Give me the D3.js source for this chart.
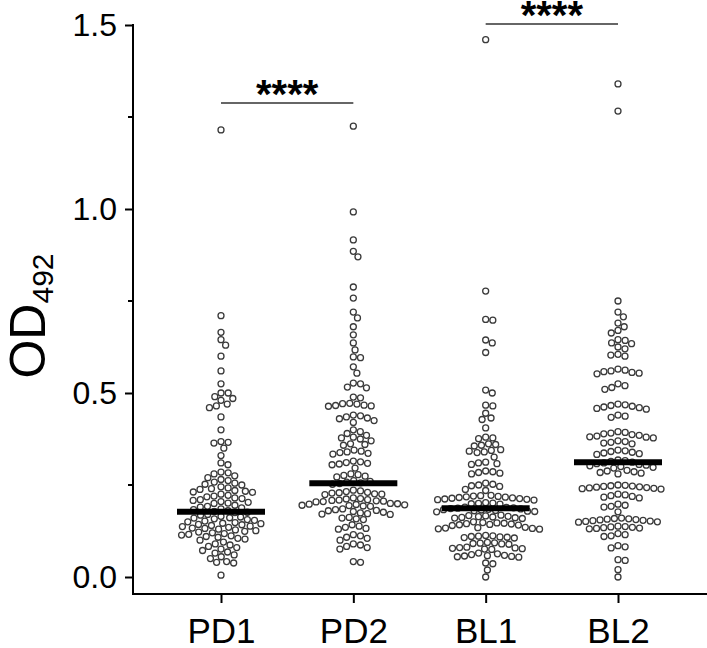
<!DOCTYPE html>
<html>
<head>
<meta charset="utf-8">
<script src="https://cdn.jsdelivr.net/npm/d3@7"></script>
<style>
  body { margin: 0; background: #fff; }
  svg text { font-family: "Liberation Sans", Arial, sans-serif; }
</style>
</head>
<body>
<script>
// groups and read-off values (OD492)
const groups = ["PD1", "PD2", "BL1", "BL2"];

const pd1 = [
  1.215, 0.71, 0.665, 0.645, 0.63, 0.60, 0.56, 0.525,
  0.50, 0.50, 0.49, 0.485, 0.48, 0.47, 0.465, 0.46, 0.435,
  0.40, 0.368, 0.366, 0.364, 0.35, 0.33, 0.31, 0.305,
  0.285, 0.283, 0.28, 0.275, 0.27, 0.265,
  0.262, 0.258, 0.255, 0.252, 0.25,
  0.245, 0.242, 0.24, 0.238, 0.235, 0.233, 0.231, 0.23,
  0.225, 0.222, 0.22, 0.218, 0.215, 0.213, 0.21, 0.208, 0.205, 0.203, 0.201, 0.20,
  0.195, 0.192, 0.19, 0.188, 0.185, 0.183, 0.18, 0.178, 0.176, 0.175,
  0.17, 0.168, 0.165, 0.163, 0.161, 0.16, 0.158, 0.156, 0.154, 0.152, 0.15,
  0.148, 0.146, 0.145, 0.143, 0.142, 0.14, 0.138, 0.137, 0.135, 0.133, 0.132, 0.13,
  0.128, 0.126, 0.124, 0.122, 0.12, 0.118, 0.116, 0.114, 0.112, 0.11, 0.108, 0.105, 0.103, 0.10,
  0.095, 0.09, 0.087, 0.083, 0.08, 0.076, 0.072,
  0.068, 0.065, 0.06, 0.055, 0.05,
  0.042, 0.04, 0.038, 0.005
];

const pd2 = [
  1.225, 0.992, 0.916, 0.885, 0.87, 0.788, 0.758, 0.72, 0.704, 0.68, 0.658, 0.636,
  0.617, 0.598, 0.596, 0.571, 0.554, 0.527, 0.525, 0.516, 0.514, 0.489, 0.487,
  0.472, 0.471, 0.47, 0.467, 0.466, 0.465, 0.464,
  0.44, 0.438, 0.435, 0.432, 0.43, 0.425, 0.42,
  0.40, 0.395, 0.39, 0.385, 0.38, 0.378, 0.375, 0.37,
  0.362, 0.36, 0.358,
  0.345, 0.342, 0.34, 0.338, 0.336, 0.334,
  0.315, 0.313, 0.311, 0.309, 0.307, 0.305,
  0.296,
  0.28, 0.278, 0.276, 0.274, 0.272,
  0.262, 0.26, 0.258, 0.256, 0.254, 0.252,
  0.236, 0.234, 0.232, 0.23, 0.229, 0.228, 0.226, 0.225, 0.224,
  0.215, 0.213, 0.212, 0.21, 0.209, 0.208, 0.207, 0.206, 0.205, 0.204,
  0.2, 0.199, 0.198, 0.197, 0.196, 0.195, 0.194, 0.193, 0.192,
  0.185, 0.183, 0.181, 0.18, 0.178, 0.176, 0.174, 0.172, 0.171, 0.17,
  0.162, 0.16, 0.158, 0.156,
  0.142, 0.138, 0.135, 0.132, 0.13,
  0.115, 0.112, 0.108, 0.105, 0.10,
  0.09, 0.087, 0.083, 0.08, 0.076,
  0.042, 0.04
];

const bl1 = [
  1.46, 0.777, 0.70, 0.698, 0.644, 0.636, 0.61, 0.508, 0.50,
  0.467, 0.465, 0.445, 0.432, 0.428, 0.405,
  0.38, 0.378, 0.376, 0.362, 0.36, 0.358, 0.356,
  0.346, 0.344, 0.342, 0.34, 0.338,
  0.326,
  0.312, 0.31, 0.308, 0.306,
  0.288, 0.286, 0.284, 0.282, 0.28,
  0.255, 0.252, 0.25, 0.248, 0.246,
  0.238, 0.235,
  0.222, 0.221, 0.22, 0.219, 0.218, 0.217, 0.216, 0.215, 0.214, 0.213, 0.212, 0.211, 0.21, 0.209,
  0.202, 0.201, 0.2, 0.199, 0.198,
  0.19, 0.189, 0.188, 0.187, 0.186, 0.185, 0.184, 0.183, 0.182, 0.181, 0.18, 0.179, 0.178, 0.177,
  0.168, 0.167, 0.166, 0.165, 0.164, 0.163, 0.162, 0.161, 0.16, 0.159,
  0.15, 0.148, 0.147, 0.146, 0.145, 0.144, 0.143, 0.142, 0.141, 0.14,
  0.135, 0.134, 0.133, 0.132, 0.131, 0.13,
  0.113, 0.112, 0.111, 0.11, 0.109, 0.108, 0.107, 0.106,
  0.094, 0.093, 0.092, 0.091, 0.09, 0.089,
  0.081, 0.08, 0.079, 0.078, 0.077, 0.076, 0.075,
  0.065, 0.063, 0.061, 0.059, 0.058, 0.057, 0.056, 0.055, 0.054,
  0.038, 0.036, 0.019, 0.0
];

const bl2 = [
  1.34, 1.266, 0.75, 0.72, 0.707, 0.69, 0.68, 0.67, 0.663,
  0.645, 0.643, 0.636, 0.634, 0.625, 0.62, 0.605, 0.603, 0.6,
  0.565, 0.562, 0.56, 0.558, 0.556, 0.554, 0.552,
  0.525, 0.52, 0.515, 0.51,
  0.47, 0.468, 0.466, 0.464, 0.462, 0.46, 0.458, 0.456,
  0.44, 0.437, 0.434,
  0.395, 0.393, 0.391, 0.389, 0.387, 0.385, 0.383, 0.381, 0.38, 0.378,
  0.37, 0.368, 0.366, 0.364, 0.362,
  0.345, 0.343, 0.341, 0.339, 0.337, 0.335, 0.333,
  0.318, 0.316, 0.314, 0.312, 0.31, 0.308, 0.306, 0.304, 0.302, 0.3, 0.298, 0.296,
  0.29, 0.288, 0.286, 0.284, 0.282, 0.28,
  0.25, 0.249, 0.248, 0.247, 0.246, 0.245, 0.244, 0.243, 0.242, 0.241, 0.24, 0.239,
  0.225, 0.223, 0.221, 0.219, 0.217, 0.215,
  0.198, 0.195, 0.192, 0.19,
  0.177,
  0.16, 0.159, 0.158, 0.157, 0.156, 0.155, 0.154, 0.153, 0.152, 0.151, 0.15, 0.149,
  0.138, 0.137, 0.136, 0.135, 0.134, 0.133, 0.132, 0.131,
  0.118, 0.115, 0.112, 0.11,
  0.085, 0.082, 0.079,
  0.047, 0.045, 0.02, 0.0
];

const series = [pd1, pd2, bl1, bl2];
const medians = [0.177, 0.255, 0.187, 0.312];

const yTicks = [0, 0.5, 1.0, 1.5];
const yMinorTicks = [0.25, 0.75, 1.25];

// significance brackets: [from, to, label, level]
const brackets = [
  ["PD1", "PD2", "****", 1.288],
  ["BL1", "BL2", "****", 1.503]
];

const width = 707, height = 648;
const axisX = 133, axisY = 594;

const svg = d3.select("body").append("svg")
  .attr("width", width)
  .attr("height", height);

const x = d3.scalePoint().domain(groups).range([221, 618]);
const y = d3.scaleLinear().domain([0, 1.5]).range([577, 25]);

// beeswarm placement
const r = 3.0;
const gap = 7.2;
function swarm(values) {
  const pts = values.map((v) => ({ v, py: y(v), dx: 0 }))
    .sort((a, b) => a.py - b.py);
  const placed = [];
  pts.forEach((p) => {
    const near = placed.filter((q) => Math.abs(q.py - p.py) < gap);
    const cands = [0];
    near.forEach((q) => {
      const h = Math.sqrt(gap * gap - (q.py - p.py) ** 2);
      cands.push(q.dx + h, q.dx - h);
    });
    cands.sort((a, b) => Math.abs(a) - Math.abs(b));
    for (const c of cands) {
      const ok = near.every((q) => {
        const dd = (q.dx - c) ** 2 + (q.py - p.py) ** 2;
        return dd >= gap * gap - 0.01;
      });
      if (ok) { p.dx = c; break; }
    }
    placed.push(p);
  });
  return pts;
}

// axes
const yAxis = svg.append("g")
  .attr("transform", `translate(${axisX},0)`)
  .call(d3.axisLeft(y).tickValues(yTicks).tickFormat(d3.format(".1f")).tickSize(8).tickPadding(8));
yAxis.select(".domain").remove();
yAxis.selectAll(".tick line").attr("stroke", "#000").attr("stroke-width", 2);
yAxis.selectAll(".tick text").attr("font-size", 32).attr("fill", "#000");

svg.append("g")
  .attr("transform", `translate(${axisX},0)`)
  .selectAll("line")
  .data(yMinorTicks)
  .join("line")
  .attr("x1", -5).attr("x2", 0)
  .attr("y1", (d) => y(d)).attr("y2", (d) => y(d))
  .attr("stroke", "#000").attr("stroke-width", 2);

const xAxis = svg.append("g")
  .attr("transform", `translate(0,${axisY})`)
  .call(d3.axisBottom(x).tickSize(9).tickPadding(15).tickSizeOuter(0));
xAxis.select(".domain").remove();
xAxis.selectAll(".tick line").attr("stroke", "#000").attr("stroke-width", 2);
xAxis.selectAll(".tick text").attr("font-size", 35).attr("fill", "#000");

svg.append("line")
  .attr("x1", axisX).attr("x2", axisX)
  .attr("y1", y(1.5) - 1).attr("y2", axisY + 1)
  .attr("stroke", "#000").attr("stroke-width", 2);
svg.append("line")
  .attr("x1", axisX - 1).attr("x2", width)
  .attr("y1", axisY).attr("y2", axisY)
  .attr("stroke", "#000").attr("stroke-width", 2);

// y label OD492
const ylab = svg.append("text")
  .attr("transform", "translate(45,316) rotate(-90)")
  .attr("text-anchor", "middle")
  .attr("fill", "#000");
ylab.append("tspan").attr("font-size", 50).text("OD");
ylab.append("tspan").attr("font-size", 30).attr("dy", 8).text("492");

// points
groups.forEach((g, i) => {
  const pts = swarm(series[i]);
  svg.append("g")
    .selectAll("circle")
    .data(pts)
    .join("circle")
    .attr("cx", (d) => x(g) + d.dx)
    .attr("cy", (d) => d.py)
    .attr("r", r)
    .attr("fill", "#fff")
    .attr("stroke", "#3a3a3a")
    .attr("stroke-width", 1.3);
});

// medians
svg.append("g")
  .selectAll("line")
  .data(groups)
  .join("line")
  .attr("x1", (d) => x(d) - 44)
  .attr("x2", (d) => x(d) + 44)
  .attr("y1", (d, i) => y(medians[i]))
  .attr("y2", (d, i) => y(medians[i]))
  .attr("stroke", "#000")
  .attr("stroke-width", 6);

// significance brackets
brackets.forEach(([a, b, label, level]) => {
  svg.append("line")
    .attr("x1", x(a)).attr("x2", x(b))
    .attr("y1", y(level)).attr("y2", y(level))
    .attr("stroke", "#333").attr("stroke-width", 1.5);
  svg.append("text")
    .attr("x", (x(a) + x(b)) / 2)
    .attr("y", y(level) + 5)
    .attr("text-anchor", "middle")
    .attr("font-size", 40)
    .attr("font-weight", "bold")
    .attr("fill", "#000")
    .text(label);
});
</script>
</body>
</html>
